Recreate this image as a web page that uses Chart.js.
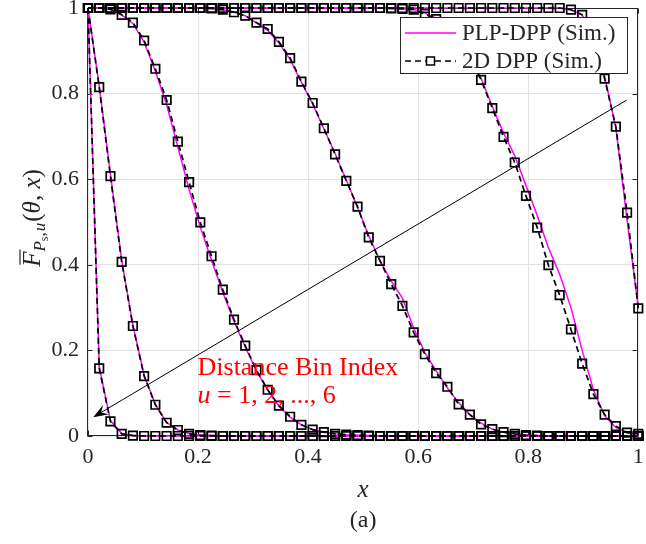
<!DOCTYPE html>
<html>
<head>
<meta charset="utf-8">
<script src="https://cdn.jsdelivr.net/npm/chart.js@4.4.0/dist/chart.umd.min.js"></script>
<style>
  html, body { margin: 0; padding: 0; background: #ffffff; }
  #wrap { width: 646px; height: 544px; }
</style>
</head>
<body>
<div id="wrap"><canvas id="chart" width="646" height="544"></canvas></div>
<script>
// Sample positions x (50 points on [0, 1])
const xGrid = [
  0, 0.0204, 0.0408, 0.0612, 0.0816, 0.1020, 0.1224, 0.1429, 0.1633, 0.1837,
  0.2041, 0.2245, 0.2449, 0.2653, 0.2857, 0.3061, 0.3265, 0.3469, 0.3673, 0.3878,
  0.4082, 0.4286, 0.4490, 0.4694, 0.4898, 0.5102, 0.5306, 0.5510, 0.5714, 0.5918,
  0.6122, 0.6327, 0.6531, 0.6735, 0.6939, 0.7143, 0.7347, 0.7551, 0.7755, 0.7959,
  0.8163, 0.8367, 0.8571, 0.8776, 0.8980, 0.9184, 0.9388, 0.9592, 0.9796, 1
];

// PLP-DPP (Sim.), distance bins u = 1..6
const plpU1 = [
  1, 0.162, 0.036, 0.006, 0.001, 0, 0, 0, 0, 0,
  0, 0, 0, 0, 0, 0, 0, 0, 0, 0,
  0, 0, 0, 0, 0, 0, 0, 0, 0, 0,
  0, 0, 0, 0, 0, 0, 0, 0, 0, 0,
  0, 0, 0, 0, 0, 0, 0, 0, 0, 0
];
const plpU2 = [
  1, 0.818, 0.612, 0.411, 0.259, 0.142, 0.074, 0.032, 0.014, 0.006,
  0.002, 0.001, 0, 0, 0, 0, 0, 0, 0, 0,
  0, 0, 0, 0, 0, 0, 0, 0, 0, 0,
  0, 0, 0, 0, 0, 0, 0, 0, 0, 0,
  0, 0, 0, 0, 0, 0, 0, 0, 0, 0
];
const plpU3 = [
  1, 1, 0.997, 0.984, 0.964, 0.920, 0.852, 0.774, 0.675, 0.576,
  0.488, 0.410, 0.336, 0.268, 0.208, 0.152, 0.107, 0.070, 0.044, 0.026,
  0.015, 0.009, 0.005, 0.003, 0.002, 0.001, 0, 0, 0, 0,
  0, 0, 0, 0, 0, 0, 0, 0, 0, 0,
  0, 0, 0, 0, 0, 0, 0, 0, 0, 0
];
const plpU4 = [
  1, 1, 1, 1, 1, 1, 1, 1, 1, 1,
  1, 0.999, 0.996, 0.990, 0.982, 0.965, 0.948, 0.918, 0.880, 0.826,
  0.776, 0.718, 0.660, 0.598, 0.534, 0.468, 0.410, 0.362, 0.322, 0.252,
  0.195, 0.152, 0.112, 0.078, 0.050, 0.030, 0.016, 0.009, 0.005, 0.002,
  0.001, 0, 0, 0, 0, 0, 0, 0, 0, 0
];
const plpU5 = [
  1, 1, 1, 1, 1, 1, 1, 1, 1, 1,
  1, 1, 1, 1, 1, 1, 1, 1, 1, 1,
  1, 1, 1, 1, 1, 1, 1, 0.999, 0.998, 0.997,
  0.988, 0.976, 0.958, 0.928, 0.888, 0.836, 0.770, 0.708, 0.655, 0.585,
  0.515, 0.440, 0.378, 0.300, 0.200, 0.108, 0.047, 0.020, 0.008, 0.005
];
const plpU6 = [
  1, 1, 1, 1, 1, 1, 1, 1, 1, 1,
  1, 1, 1, 1, 1, 1, 1, 1, 1, 1,
  1, 1, 1, 1, 1, 1, 1, 1, 1, 1,
  1, 1, 1, 1, 1, 1, 1, 1, 1, 1,
  1, 1, 1, 0.996, 0.984, 0.932, 0.840, 0.720, 0.505, 0.300
];

// 2D DPP (Sim.), distance bins u = 1..6
const dppU1 = [
  1, 0.158, 0.034, 0.005, 0.001, 0, 0, 0, 0, 0,
  0, 0, 0, 0, 0, 0, 0, 0, 0, 0,
  0, 0, 0, 0, 0, 0, 0, 0, 0, 0,
  0, 0, 0, 0, 0, 0, 0, 0, 0, 0,
  0, 0, 0, 0, 0, 0, 0, 0, 0, 0
];
const dppU2 = [
  1, 0.815, 0.607, 0.407, 0.257, 0.140, 0.073, 0.031, 0.014, 0.005,
  0.002, 0.001, 0, 0, 0, 0, 0, 0, 0, 0,
  0, 0, 0, 0, 0, 0, 0, 0, 0, 0,
  0, 0, 0, 0, 0, 0, 0, 0, 0, 0,
  0, 0, 0, 0, 0, 0, 0, 0, 0, 0
];
const dppU3 = [
  1, 1, 0.997, 0.984, 0.966, 0.924, 0.858, 0.785, 0.688, 0.593,
  0.499, 0.420, 0.342, 0.272, 0.211, 0.154, 0.108, 0.071, 0.045, 0.026,
  0.015, 0.009, 0.005, 0.003, 0.002, 0.001, 0, 0, 0, 0,
  0, 0, 0, 0, 0, 0, 0, 0, 0, 0,
  0, 0, 0, 0, 0, 0, 0, 0, 0, 0
];
const dppU4 = [
  1, 1, 1, 1, 1, 1, 1, 1, 1, 1,
  1, 0.999, 0.996, 0.990, 0.982, 0.966, 0.951, 0.921, 0.883, 0.828,
  0.778, 0.719, 0.658, 0.596, 0.536, 0.464, 0.409, 0.355, 0.304, 0.242,
  0.191, 0.147, 0.115, 0.074, 0.050, 0.027, 0.016, 0.009, 0.005, 0.002,
  0.001, 0, 0, 0, 0, 0, 0, 0, 0, 0
];
const dppU5 = [
  1, 1, 1, 1, 1, 1, 1, 1, 1, 1,
  1, 1, 1, 1, 1, 1, 1, 1, 1, 1,
  1, 1, 1, 1, 1, 1, 1, 0.999, 0.998, 0.996,
  0.986, 0.974, 0.955, 0.925, 0.885, 0.832, 0.766, 0.699, 0.639, 0.561,
  0.487, 0.399, 0.329, 0.249, 0.169, 0.098, 0.050, 0.023, 0.008, 0.005
];
const dppU6 = [
  1, 1, 1, 1, 1, 1, 1, 1, 1, 1,
  1, 1, 1, 1, 1, 1, 1, 1, 1, 1,
  1, 1, 1, 1, 1, 1, 1, 1, 1, 1,
  1, 1, 1, 1, 1, 1, 1, 1, 1, 1,
  1, 1, 1, 0.996, 0.984, 0.930, 0.835, 0.723, 0.522, 0.298
];

const xTicks = [0, 0.2, 0.4, 0.6, 0.8, 1];
const yTicks = [0, 0.2, 0.4, 0.6, 0.8, 1];
const seriesNames = ['PLP-DPP (Sim.)', '2D DPP (Sim.)'];

// Arrow across the curve family, in data coordinates
const arrowFrom = { x: 0.979, y: 0.785 };
const arrowTo = { x: 0.0095, y: 0.044 };
const noteAnchor = { x: 0.199, y: 0.142 };

const SERIF = '"Liberation Serif", "Times New Roman", serif';
const AXIS_INK = '#262626';
const MAGENTA = '#ff00ff';

const plpSets = [plpU1, plpU2, plpU3, plpU4, plpU5, plpU6];
const dppSets = [dppU1, dppU2, dppU3, dppU4, dppU5, dppU6];
const toPoints = arr => arr.map((v, i) => ({ x: xGrid[i], y: v }));

const datasets = [];
plpSets.forEach((arr, k) => datasets.push({
  label: seriesNames[0] + ' u=' + (k + 1),
  data: toPoints(arr),
  borderColor: MAGENTA,
  borderWidth: 1.5,
  pointRadius: 0,
  tension: 0,
  clip: false,
  order: 2
}));
dppSets.forEach((arr, k) => datasets.push({
  label: seriesNames[1] + ' u=' + (k + 1),
  data: toPoints(arr),
  borderColor: '#000000',
  borderWidth: 1.7,
  borderDash: [6, 4],
  pointStyle: 'rect',
  pointRadius: 6,
  pointBorderWidth: 1.7,
  pointBorderColor: '#000000',
  pointBackgroundColor: 'rgba(0,0,0,0)',
  tension: 0,
  clip: false,
  order: 1
}));

function drawParts(ctx, parts, startX) {
  let cx = startX;
  parts.forEach(p => {
    ctx.font = p.f;
    ctx.fillText(p.t, cx, p.dy || 0);
    if (p.bar) {
      const w = ctx.measureText(p.t).width;
      ctx.save();
      ctx.lineWidth = 1.2;
      ctx.beginPath();
      ctx.moveTo(cx + 2, p.barY);
      ctx.lineTo(cx + w + 2, p.barY);
      ctx.stroke();
      ctx.restore();
    }
    cx += ctx.measureText(p.t).width + (p.gap || 0);
  });
  return cx;
}
function partsWidth(ctx, parts) {
  let w = 0;
  parts.forEach(p => { ctx.font = p.f; w += ctx.measureText(p.t).width + (p.gap || 0); });
  return w;
}

const decorations = {
  id: 'decorations',
  beforeDatasetsDraw(chart) {
    const { ctx, chartArea: a, scales: { x, y } } = chart;
    ctx.save();
    ctx.strokeStyle = AXIS_INK;
    ctx.lineWidth = 1;
    const L = Math.round(a.left) - 0.5, R = Math.round(a.right) - 0.5;
    const T = Math.round(a.top) + 0.5, B = Math.round(a.bottom) - 0.5;
    ctx.strokeRect(L, T, R - L, B - T);
    const tl = 5;
    ctx.beginPath();
    xTicks.forEach(v => {
      const px = Math.round(x.getPixelForValue(v)) + 0.5;
      ctx.moveTo(px, B); ctx.lineTo(px, B - tl);
      ctx.moveTo(px, T); ctx.lineTo(px, T + tl);
    });
    yTicks.forEach(v => {
      const py = Math.round(y.getPixelForValue(v)) + 0.5;
      ctx.moveTo(L, py); ctx.lineTo(L + tl, py);
      ctx.moveTo(R, py); ctx.lineTo(R - tl, py);
    });
    ctx.stroke();
    ctx.restore();
  },
  afterDatasetsDraw(chart) {
    const { ctx, chartArea: a, scales: { x, y } } = chart;
    ctx.save();

    // Arrow through the curve family
    const x0 = x.getPixelForValue(arrowFrom.x), y0 = y.getPixelForValue(arrowFrom.y);
    const x1 = x.getPixelForValue(arrowTo.x), y1 = y.getPixelForValue(arrowTo.y);
    const len = Math.hypot(x0 - x1, y0 - y1);
    const ux = (x0 - x1) / len, uy = (y0 - y1) / len;
    const nx = -uy, ny = ux;
    const headL = 15, headW = 5.5;
    ctx.strokeStyle = '#000000';
    ctx.lineWidth = 1;
    ctx.beginPath();
    ctx.moveTo(x0, y0);
    ctx.lineTo(x1 + ux * headL * 0.6, y1 + uy * headL * 0.6);
    ctx.stroke();
    ctx.fillStyle = '#000000';
    ctx.beginPath();
    ctx.moveTo(x1, y1);
    ctx.lineTo(x1 + ux * headL + nx * headW, y1 + uy * headL + ny * headW);
    ctx.lineTo(x1 + ux * headL * 0.6, y1 + uy * headL * 0.6);
    ctx.lineTo(x1 + ux * headL - nx * headW, y1 + uy * headL - ny * headW);
    ctx.closePath();
    ctx.fill();

    // Red annotation
    const nxp = x.getPixelForValue(noteAnchor.x), nyp = y.getPixelForValue(noteAnchor.y);
    ctx.fillStyle = '#ff0000';
    ctx.textBaseline = 'alphabetic';
    ctx.textAlign = 'left';
    ctx.font = '26px ' + SERIF;
    ctx.fillText('Distance Bin Index', nxp, nyp);
    ctx.save();
    ctx.translate(0, nyp + 28);
    drawParts(ctx, [
      { t: 'u', f: 'italic 26px ' + SERIF },
      { t: ' = 1, 2, ..., 6', f: '26px ' + SERIF }
    ], nxp);
    ctx.restore();

    // Legend
    const lw = 227, lh = 56;
    const lx = Math.round(a.right) - 11 - lw, ly = Math.round(a.top) + 9;
    ctx.fillStyle = '#ffffff';
    ctx.fillRect(lx, ly, lw, lh);
    ctx.strokeStyle = AXIS_INK;
    ctx.lineWidth = 1;
    ctx.strokeRect(lx + 0.5, ly + 0.5, lw, lh);
    const r1 = ly + 16, r2 = ly + 44;
    const sx0 = lx + 5, sx1 = lx + 56;
    ctx.strokeStyle = MAGENTA;
    ctx.lineWidth = 1.5;
    ctx.beginPath(); ctx.moveTo(sx0, r1); ctx.lineTo(sx1, r1); ctx.stroke();
    ctx.strokeStyle = '#000000';
    ctx.lineWidth = 1.7;
    ctx.setLineDash([6, 4]);
    ctx.beginPath(); ctx.moveTo(sx0, r2); ctx.lineTo(sx1, r2); ctx.stroke();
    ctx.setLineDash([]);
    ctx.lineWidth = 1.5;
    const mc = (sx0 + sx1) / 2;
    ctx.fillStyle = '#ffffff';
    ctx.fillRect(mc - 4, r2 - 4, 8, 8);
    ctx.strokeRect(mc - 4, r2 - 4, 8, 8);
    ctx.fillStyle = AXIS_INK;
    ctx.font = '23px ' + SERIF;
    ctx.textBaseline = 'middle';
    ctx.fillText(seriesNames[0], lx + 62, r1 + 1);
    ctx.fillText(seriesNames[1], lx + 62, r2 + 1);

    ctx.restore();
  },
  afterDraw(chart) {
    const { ctx, chartArea: a } = chart;
    ctx.save();
    ctx.fillStyle = AXIS_INK;
    ctx.strokeStyle = AXIS_INK;
    ctx.textBaseline = 'alphabetic';
    ctx.textAlign = 'left';
    const midX = (a.left + a.right) / 2;

    // x-axis title
    ctx.font = 'italic 25px ' + SERIF;
    const wx = ctx.measureText('x').width;
    ctx.fillText('x', midX - wx / 2, 497);

    // panel tag
    ctx.font = '24px ' + SERIF;
    const wa = ctx.measureText('(a)').width;
    ctx.fillText('(a)', midX - wa / 2, 527);

    // y-axis title: F-bar sub (P_s, u) of (theta, x)
    const parts = [
      { t: 'F', f: 'italic 25px ' + SERIF, bar: true, barY: -20, gap: 0 },
      { t: 'P', f: 'italic 17px ' + SERIF, dy: 5, gap: 0 },
      { t: 's', f: '12px ' + SERIF, dy: 8, gap: 0 },
      { t: ',', f: '17px ' + SERIF, dy: 5, gap: 1 },
      { t: 'u', f: 'italic 17px ' + SERIF, dy: 5, gap: 1 },
      { t: '(', f: '25px ' + SERIF },
      { t: 'θ', f: 'italic 25px ' + SERIF },
      { t: ', ', f: '25px ' + SERIF },
      { t: 'x', f: 'italic 25px ' + SERIF },
      { t: ')', f: '25px ' + SERIF }
    ];
    const midY = (a.top + a.bottom) / 2;
    ctx.translate(40, midY - 4);
    ctx.rotate(-Math.PI / 2);
    const tw = partsWidth(ctx, parts);
    drawParts(ctx, parts, -tw / 2);
    ctx.restore();
  }
};

const tickFont = { family: SERIF, size: 22 };

new Chart(document.getElementById('chart'), {
  type: 'line',
  data: { datasets },
  options: {
    responsive: false,
    animation: false,
    events: [],
    layout: { padding: { top: 8, right: 1, left: 0, bottom: 0 } },
    plugins: { legend: { display: false }, tooltip: { enabled: false } },
    scales: {
      x: {
        type: 'linear',
        min: 0, max: 1,
        afterBuildTicks: s => { s.ticks = xTicks.map(v => ({ value: v })); },
        afterFit: s => { s.height = 108; s.paddingLeft = 0; s.paddingRight = 0; },
        ticks: { callback: v => String(v), font: tickFont, color: AXIS_INK, padding: 8, maxRotation: 0, autoSkip: false },
        grid: { color: '#e3e3e3', lineWidth: 1, drawTicks: false },
        border: { display: false }
      },
      y: {
        type: 'linear',
        min: 0, max: 1,
        afterBuildTicks: s => { s.ticks = yTicks.map(v => ({ value: v })); },
        afterFit: s => { s.width = 88; s.paddingTop = 0; s.paddingBottom = 0; },
        ticks: { callback: v => String(v), font: tickFont, color: AXIS_INK, padding: 9, autoSkip: false },
        grid: { color: '#e3e3e3', lineWidth: 1, drawTicks: false },
        border: { display: false }
      }
    }
  },
  plugins: [decorations]
});
</script>
</body>
</html>
